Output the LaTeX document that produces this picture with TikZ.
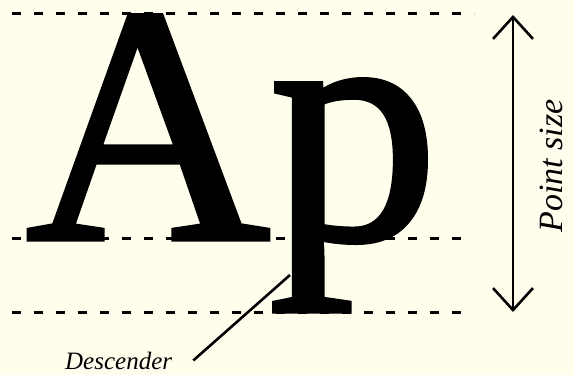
\documentclass[tikz,border=0pt]{standalone}
\usepackage{fontspec}
\setmainfont{Liberation Serif}
\newfontfamily\glyphfont[FakeBold=1.6]{Liberation Serif}
\usetikzlibrary{arrows.meta}

\definecolor{paper}{RGB}{255,253,236}

\tikzset{
  guide/.style={line width=3pt, dash pattern=on 9pt off 13pt},
  glyph/.style={inner sep=0pt, anchor=base, font=\glyphfont\fontsize{338}{338}\selectfont},
  sizearrow/.style={line width=2.6pt, {Straight Barb[length=22pt,width=40pt]}-{Straight Barb[length=22pt,width=40pt]}},
  leader/.style={line width=2.6pt},
  caption/.style={inner sep=0pt, font=\itshape}
}

\begin{document}
\begin{tikzpicture}[x=1pt,y=-1pt]
  \fill[paper] (0,0) rectangle (574,375);
  % guide lines: cap height, baseline, descender
  \draw[guide] (12,13) -- (474,13);
  \draw[guide] (12,238) -- (468,238);
  \draw[guide] (12,312) -- (468,312);
  % the two letters
  \node[glyph] (capA) at (148,239) {A};
  \node[glyph] (lowp) at (354,239) {p};
  % point size
  \coordinate (sztop) at (513,15);
  \coordinate (szbot) at (513,312);
  \draw[sizearrow] (sztop) -- (szbot);
  \node[caption, rotate=90, anchor=base, font=\fontsize{34}{34}\selectfont\itshape] (ptsize) at (562,166) {Point size};
  % descender label
  \node[caption, anchor=base west, font=\fontsize{25}{25}\selectfont\itshape] (desc) at (65,369) {Descender};
  \coordinate (stem) at (290,275);
  \draw[leader] ([xshift=21pt]desc.east) -- (stem);
\end{tikzpicture}
\end{document}
